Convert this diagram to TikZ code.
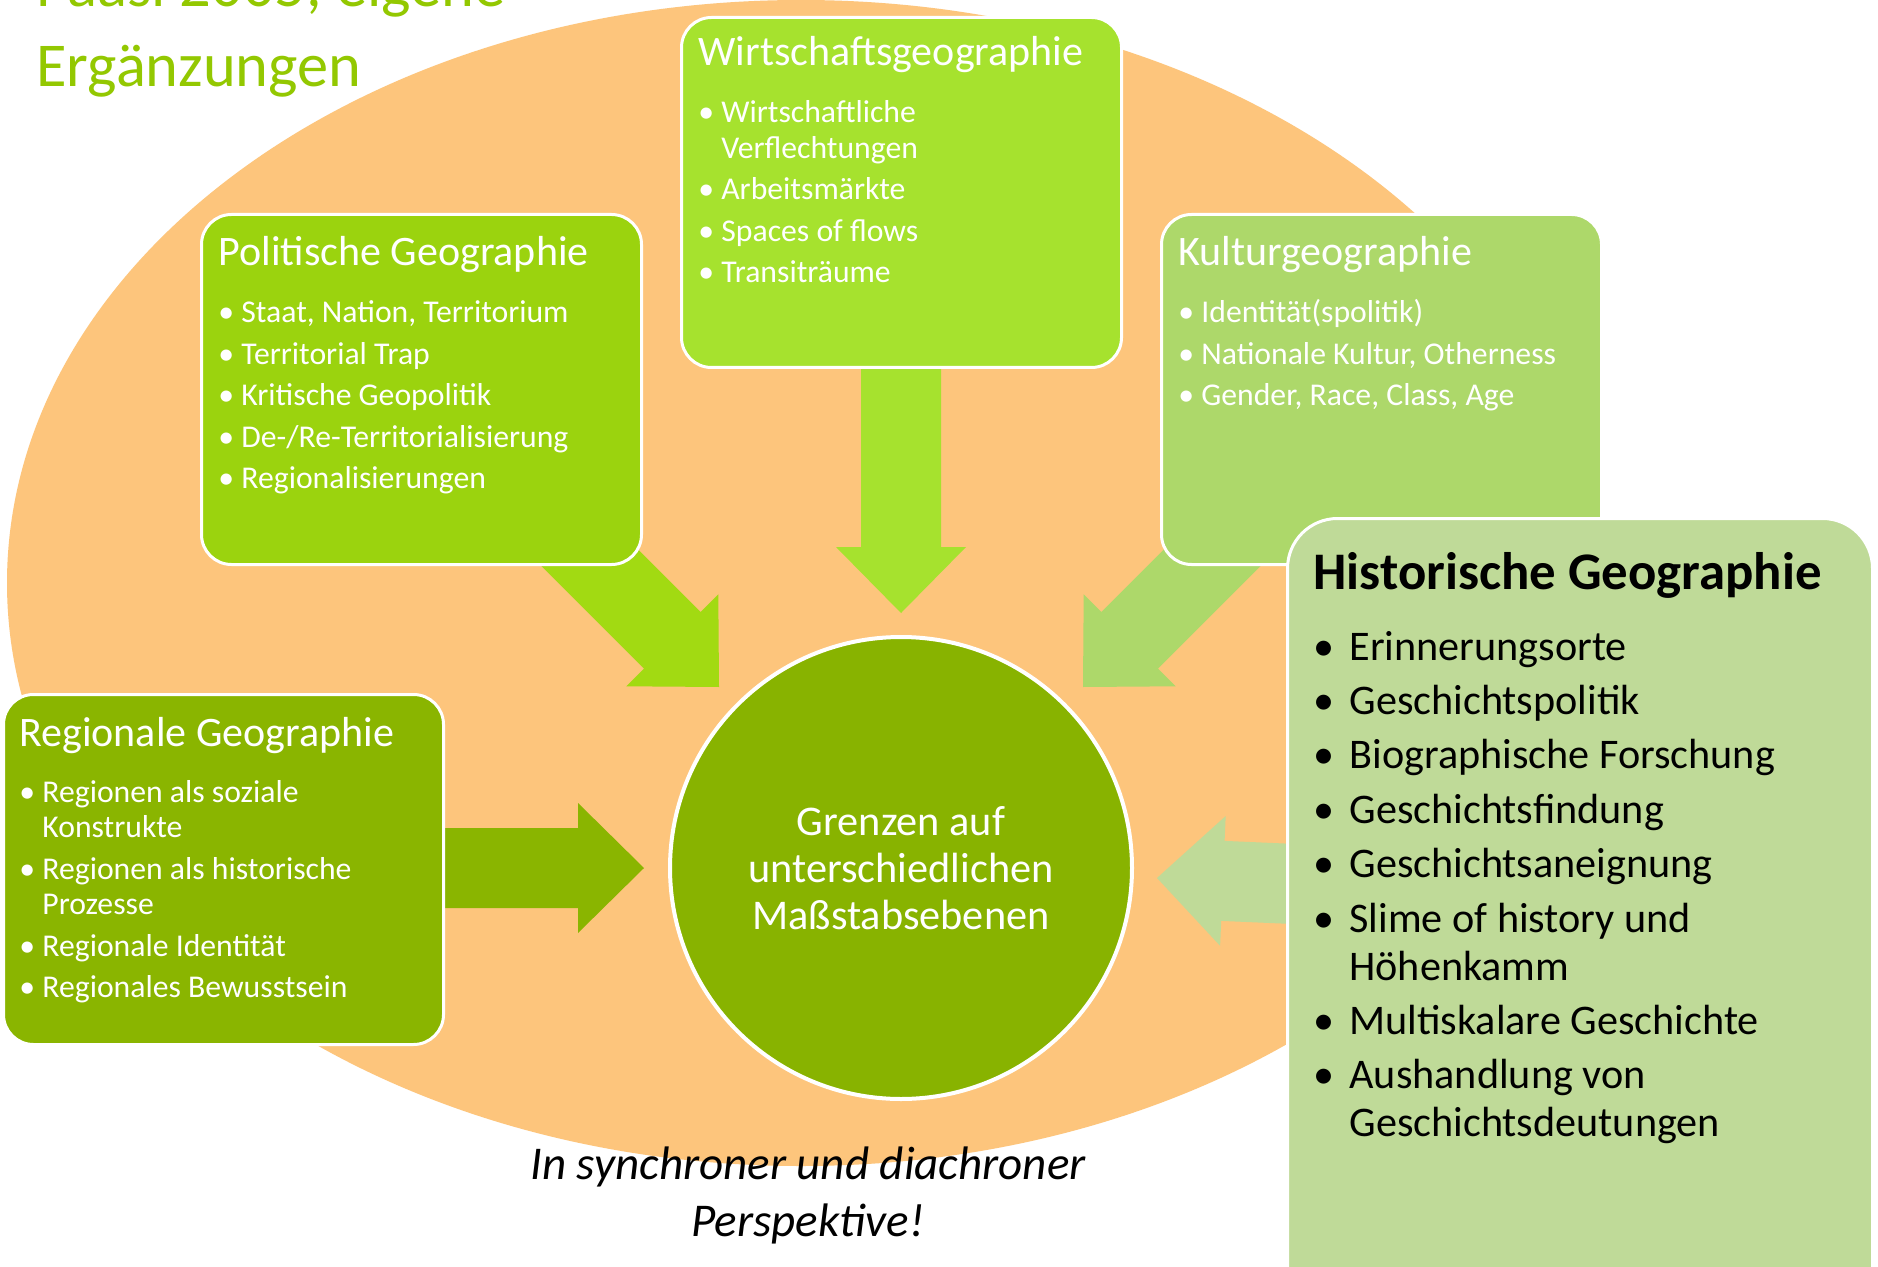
\documentclass[tikz,border=0pt]{standalone}
\usepackage{fontspec}
\setmainfont{Carlito}
\definecolor{ellC}{HTML}{FDC57C}
\definecolor{wirtC}{HTML}{A6E22E}
\definecolor{polC}{HTML}{9BD30E}
\definecolor{polA}{HTML}{A2DA12}
\definecolor{kultC}{HTML}{ADD86A}
\definecolor{regC}{HTML}{8AB500}
\definecolor{histC}{HTML}{BFDA98}
\definecolor{circC}{HTML}{88B300}
\definecolor{titC}{HTML}{93C801}
\newcommand\ftitle{\fontsize{21}{25}\selectfont}
\newcommand\fitem{\fontsize{15.85}{17.75}\selectfont}
\newcommand\bl{\makebox[11.5pt][l]{•}}
\newcommand\bc{\hspace*{11.5pt}}
\newcommand\bh{\makebox[18pt][l]{•}}
\newcommand\bhc{\hspace*{18pt}}
\begin{document}
\begin{tikzpicture}[x=0.5pt,y=-0.5pt,
  box/.style={draw=white, line width=1.5pt, rounded corners=15pt, anchor=north west,
    minimum width=220pt, minimum height=175pt, inner sep=0pt},
  txt/.style={anchor=base west, inner sep=0pt, text=white},
  lst/.style={anchor=base west, inner sep=0pt, text=white, font=\fitem},
]
\clip (0,0) rectangle (1878,1267);
\fill[white] (0,0) rectangle (1878,1267);
\fill[ellC] (801,583) ellipse [x radius=794, y radius=583];

% arrows
\fill[wirtC] (861,340) -- (941,340) -- (941,547) -- (966,547) -- (901,613) -- (836,547) -- (861,547) -- cycle;
\fill[polA] (559.6,471) -- (700.6,612.05) -- (718.3,594.4) -- (719,687) -- (626.4,686.3) -- (644.05,668.6) -- (503,527.6) -- cycle;
\fill[kultC] (1242.4,471) -- (1101.4,612.05) -- (1083.7,594.4) -- (1083,687) -- (1175.6,686.3) -- (1157.95,668.6) -- (1299,527.6) -- cycle;
\fill[regC] (400,828) -- (578,828) -- (578,803) -- (644,868) -- (578,933) -- (578,908) -- (400,908) -- cycle;
\fill[histC] (1374.5,847.4) -- (1224.6,840.9) -- (1225.7,816) -- (1157,878) -- (1220.1,945.8) -- (1221.2,920.9) -- (1371.1,927.4) -- cycle;

% boxes
\node[box, fill=wirtC] (wirt) at (680,16) {};
\node[box, fill=polC] (pol) at (200,213) {};
\node[box, fill=kultC] (kult) at (1160,213) {};
\node[box, fill=regC] (reg) at (2,693) {};
\node[box, fill=histC, rounded corners=25pt, minimum width=292.5pt, minimum height=400pt] (hist) at (1286,517) {};
\node[circle, fill=circC, draw=white, line width=2pt, minimum size=231pt, inner sep=0pt,
  text=white, align=center, font=\fontsize{21.15}{23.5}\selectfont] (circ) at (901,868)
  {Grenzen auf\\unterschiedlichen\\Maßstabsebenen};

% texts
\node[txt, font=\ftitle] (wirtT) at (698,66) {Wirtschaftsgeographie};
\node[lst] (wirtL) at (698,123) {\parbox[t]{210pt}{\bl Wirtschaftliche\\ \bc Verflechtungen\\[3pt]
  \bl Arbeitsmärkte\\[3pt] \bl Spaces of flows\\[3pt] \bl Transiträume}};

\node[txt, font=\ftitle] (polT) at (218,266) {Politische Geographie};
\node[lst] (polL) at (218,323) {\parbox[t]{210pt}{\bl Staat, Nation, Territorium\\[3pt]
  \bl Territorial Trap\\[3pt] \bl Kritische Geopolitik\\[3pt]
  \bl De-/Re-Territorialisierung\\[3pt] \bl Regionalisierungen}};

\node[txt, font=\ftitle] (kultT) at (1178,266) {Kulturgeographie};
\node[lst] (kultL) at (1178,323) {\parbox[t]{210pt}{\bl Identität(spolitik)\\[3pt]
  \bl Nationale Kultur, Otherness\\[3pt] \bl Gender, Race, Class, Age}};

\node[txt, font=\ftitle] (regT) at (19,746) {Regionale Geographie};
\node[lst] (regL) at (19,802) {\parbox[t]{210pt}{\bl Regionen als soziale\\ \bc Konstrukte\\[3pt]
  \bl Regionen als historische\\ \bc Prozesse\\[3pt] \bl Regionale Identität\\[3pt]
  \bl Regionales Bewusstsein}};

\node[anchor=base west, inner sep=0pt, font=\fontsize{26.4}{30}\selectfont\bfseries] (histT) at (1313,589) {Historische Geographie};
\node[anchor=base west, inner sep=0pt, font=\fontsize{21.1}{24}\selectfont] (histL) at (1313,660)
 {\parbox[t]{280pt}{\bh Erinnerungsorte\\[3.2pt] \bh Geschichtspolitik\\[3.2pt]
  \bh Biographische Forschung\\[3.2pt] \bh Geschichtsfindung\\[3.2pt]
  \bh Geschichtsaneignung\\[3.2pt] \bh Slime of history und\\ \bhc Höhenkamm\\[3.2pt]
  \bh Multiskalare Geschichte\\[3.2pt] \bh Aushandlung von\\ \bhc Geschichtsdeutungen}};

\node[anchor=base west, inner sep=0pt, text=titC, font=\fontsize{31.2}{40}\selectfont] (src) at (36,87)
 {\parbox[b]{300pt}{Paasi 2005, eigene\\Ergänzungen}};

\node[anchor=base, inner sep=0pt, font=\fontsize{23.5}{28.75}\selectfont\itshape] (persp) at (808,1179)
 {\parbox[t]{320pt}{\centering In synchroner und diachroner\\Perspektive!}};
\end{tikzpicture}
\end{document}
